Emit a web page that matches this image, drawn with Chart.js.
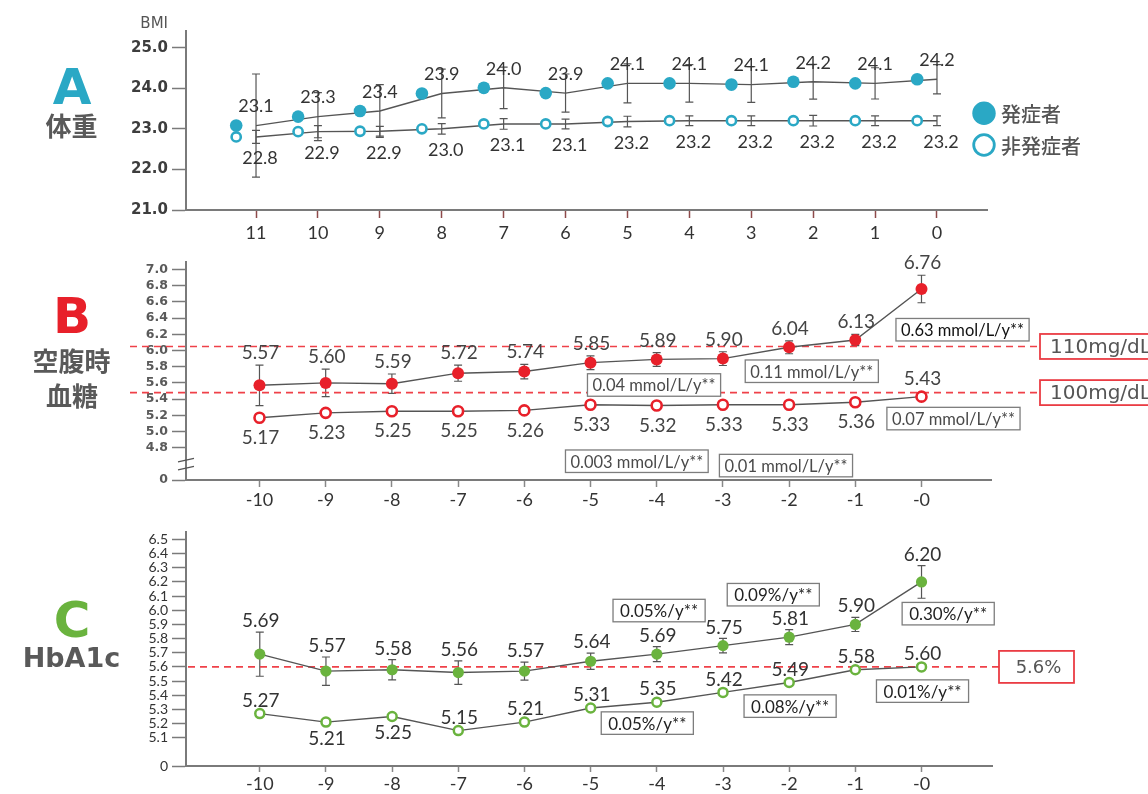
<!DOCTYPE html>
<html>
<head>
<meta charset="utf-8">
<script src="https://cdn.jsdelivr.net/npm/chart.js@4.4.1/dist/chart.umd.min.js"></script>
<style>
  html, body { margin: 0; padding: 0; background: #fff; }
  #wrap { position: relative; width: 1148px; height: 794px; overflow: hidden; }
  canvas { position: absolute; left: 0; }
</style>
</head>
<body>
<div id="wrap">
  <canvas id="bmi" width="1148" height="250" style="top:0px"></canvas>
  <canvas id="fpg" width="1148" height="270" style="top:250px"></canvas>
  <canvas id="hba" width="1148" height="274" style="top:520px"></canvas>
</div>
<script>
// ---- A: BMI, years before onset ----
const bmiYears = [11, 10, 9, 8, 7, 6, 5, 4, 3, 2, 1, 0];
const bmiOnset = [23.08, 23.30, 23.44, 23.87, 24.01, 23.88, 24.12, 24.12, 24.09, 24.16, 24.12, 24.22];
const bmiOnsetSD = [1.27, 0.59, 0.65, 0.60, 0.51, 0.47, 0.48, 0.46, 0.44, 0.43, 0.385, 0.36];
const bmiNonOnset = [22.80, 22.93, 22.94, 23.00, 23.12, 23.12, 23.18, 23.20, 23.20, 23.20, 23.20, 23.20];
const bmiNonOnsetSD = [0.16, 0.15, 0.12, 0.13, 0.13, 0.12, 0.13, 0.12, 0.12, 0.13, 0.12, 0.12];
const bmiTicks = [21, 22, 23, 24, 25];
const legendNames = ['発症者', '非発症者'];

// ---- B: fasting plasma glucose (mmol/L) ----
const diffYears = [-10, -9, -8, -7, -6, -5, -4, -3, -2, -1, 0];
const fpgOnset = [5.57, 5.60, 5.59, 5.72, 5.74, 5.85, 5.89, 5.90, 6.04, 6.13, 6.76];
const fpgOnsetSD = [0.25, 0.17, 0.12, 0.10, 0.09, 0.085, 0.085, 0.085, 0.08, 0.07, 0.17];
const fpgNonOnset = [5.17, 5.23, 5.25, 5.25, 5.26, 5.33, 5.32, 5.33, 5.33, 5.36, 5.43];
const fpgTicks = [4.8, 5.0, 5.2, 5.4, 5.6, 5.8, 6.0, 6.2, 6.4, 6.6, 6.8, 7.0];
const fpgLimitValues = [6.05, 5.48];
const fpgLimitLabels = ['110mg/dL', '100mg/dL'];
const fpgRateLabels = ['0.63 mmol/L/y**', '0.11 mmol/L/y**', '0.04 mmol/L/y**',
                       '0.07 mmol/L/y**', '0.003 mmol/L/y**', '0.01 mmol/L/y**'];

// ---- C: HbA1c (%) ----
const hbaOnset = [5.69, 5.57, 5.58, 5.56, 5.57, 5.64, 5.69, 5.75, 5.81, 5.90, 6.20];
const hbaOnsetSD = [0.156, 0.10, 0.072, 0.083, 0.063, 0.057, 0.053, 0.051, 0.053, 0.05, 0.115];
const hbaNonOnset = [5.27, 5.21, 5.25, 5.15, 5.21, 5.31, 5.35, 5.42, 5.49, 5.58, 5.60];
const hbaTicks = [5.1, 5.2, 5.3, 5.4, 5.5, 5.6, 5.7, 5.8, 5.9, 6.0, 6.1, 6.2, 6.3, 6.4, 6.5];
const hbaLimitValues = [5.6];
const hbaLimitLabels = ['5.6%'];
const hbaRateLabels = ['0.05%/y**', '0.09%/y**', '0.30%/y**', '0.01%/y**', '0.08%/y**', '0.05%/y**'];

// ---------------------------------------------------------------
const TEAL = '#2aa8c5', RED = '#e8202a', GREEN = '#6ab33e';
const LINE = '#555555', AXIS = '#7a7a7a';
const NUM = 'Lato, "Open Sans", sans-serif';
const GEO = '"DejaVu Sans", sans-serif';
const CJK = '"Noto Sans CJK JP", "Noto Sans CJK SC", sans-serif';

Chart.defaults.animation = false;
Chart.defaults.responsive = false;
Chart.defaults.events = [];
Chart.defaults.plugins.legend.display = false;
Chart.defaults.plugins.tooltip.enabled = false;

const pts = (xs, ys, shift = 0) => xs.map((x, i) => ({ x: x + shift, y: ys[i] }));

// vertical SD bars with caps, drawn under the markers
const errorBars = {
  id: 'errorBars',
  beforeDatasetsDraw(chart) {
    const { ctx } = chart, ys = chart.scales.y;
    chart.data.datasets.forEach((ds, i) => {
      if (!ds.errors) return;
      const meta = chart.getDatasetMeta(i);
      ctx.save();
      ctx.strokeStyle = LINE;
      ctx.lineWidth = 1.2;
      meta.data.forEach((p, j) => {
        const v = ds.data[j].y, e = ds.errors[j];
        const t = ys.getPixelForValue(v + e), b = ys.getPixelForValue(v - e);
        ctx.beginPath();
        ctx.moveTo(p.x, t); ctx.lineTo(p.x, b);
        ctx.moveTo(p.x - 4, t); ctx.lineTo(p.x + 4, t);
        ctx.moveTo(p.x - 4, b); ctx.lineTo(p.x + 4, b);
        ctx.stroke();
      });
      ctx.restore();
    });
  }
};

// value labels above / below each point
const valueLabels = {
  id: 'valueLabels',
  afterDatasetsDraw(chart) {
    const { ctx } = chart, ys = chart.scales.y;
    chart.data.datasets.forEach((ds, i) => {
      const L = ds.valueLabel;
      if (!L) return;
      const meta = chart.getDatasetMeta(i);
      ctx.save();
      ctx.font = L.font;
      ctx.fillStyle = L.color;
      ctx.textAlign = 'center';
      ctx.textBaseline = 'middle';
      meta.data.forEach((p, j) => {
        const v = ds.data[j].y;
        let y;
        if (L.below(j, ds.data.length)) y = p.y + L.gapBelow;
        else if (L.aboveError && ds.errors) y = ys.getPixelForValue(v + ds.errors[j]) - L.gapAbove;
        else y = p.y - L.gapAbove;
        ctx.fillText(v.toFixed(L.digits), p.x + (L.dx || 0), y);
      });
      ctx.restore();
    });
  }
};

// panel letter, title, legend, reference lines, rate boxes
function decor(cfg) {
  return {
    id: 'decor',
    beforeDatasetsDraw(chart) {
      const { ctx } = chart, ys = chart.scales.y;
      (cfg.limits || []).forEach(lim => {
        const y = ys.getPixelForValue(lim.value);
        ctx.save();
        ctx.strokeStyle = '#ef4149';
        ctx.lineWidth = 1.6;
        ctx.setLineDash([7, 5]);
        ctx.beginPath();
        ctx.moveTo(lim.from, y); ctx.lineTo(lim.to, y);
        ctx.stroke();
        ctx.restore();
      });
    },
    afterDraw(chart) {
      const { ctx } = chart, xs = chart.scales.x, ys = chart.scales.y;
      const oy = cfg.offsetY;
      ctx.save();
      // panel letter and caption
      ctx.textAlign = 'center';
      ctx.textBaseline = 'alphabetic';
      ctx.fillStyle = cfg.title.color;
      ctx.font = 'bold 50px ' + GEO;
      ctx.fillText(cfg.title.letter, cfg.title.x, cfg.title.baseline - oy);
      ctx.fillStyle = '#595959';
      cfg.title.lines.forEach(l => {
        ctx.font = l.font;
        ctx.textBaseline = l.baseline;
        ctx.fillText(l.text, l.x, l.y - oy);
      });
      // red boxes at the reference lines
      (cfg.limits || []).forEach(lim => {
        const y = ys.getPixelForValue(lim.value);
        ctx.strokeStyle = '#ea3c44';
        ctx.lineWidth = 1.8;
        ctx.fillStyle = '#fff';
        ctx.fillRect(lim.to, y - lim.h / 2, lim.w, lim.h);
        ctx.strokeRect(lim.to, y - lim.h / 2, lim.w, lim.h);
        ctx.fillStyle = '#555';
        ctx.font = lim.font;
        ctx.textBaseline = 'middle';
        ctx.textAlign = lim.align;
        ctx.fillText(lim.label, lim.align === 'left' ? lim.to + 10 : lim.to + lim.w / 2 + 2, y + 1);
      });
      // slope boxes
      (cfg.rates || []).forEach(r => {
        const x = xs.getPixelForValue(r.x), y = ys.getPixelForValue(r.y);
        ctx.font = cfg.rateFont;
        const w = ctx.measureText(r.text).width + cfg.ratePad * 2, h = 22.5;
        ctx.fillStyle = '#fff';
        ctx.fillRect(x - w / 2, y - h / 2, w, h);
        ctx.strokeStyle = '#7d7d7d';
        ctx.lineWidth = 1.3;
        ctx.strokeRect(x - w / 2, y - h / 2, w, h);
        ctx.fillStyle = r.color;
        ctx.textAlign = 'center';
        ctx.textBaseline = 'middle';
        ctx.fillText(r.text, x, y + 1);
      });
      // broken-axis mark
      if (cfg.axisBreak) {
        const x = chart.chartArea.left;
        const yc = (ys.getPixelForValue(cfg.axisBreak[0]) + ys.getPixelForValue(cfg.axisBreak[1])) / 2;
        ctx.strokeStyle = LINE;
        ctx.lineWidth = 1.3;
        ctx.beginPath();
        ctx.moveTo(x - 8, yc - 2); ctx.lineTo(x + 8, yc - 5.5);
        ctx.moveTo(x - 8, yc + 6); ctx.lineTo(x + 8, yc + 2.5);
        ctx.stroke();
      }
      // legend
      if (cfg.legend) {
        const lg = cfg.legend;
        ctx.fillStyle = TEAL;
        ctx.beginPath(); ctx.arc(lg.x, lg.y[0], 11.7, 0, Math.PI * 2); ctx.fill();
        ctx.strokeStyle = TEAL; ctx.lineWidth = 2.8;
        ctx.fillStyle = '#fff';
        ctx.beginPath(); ctx.arc(lg.x, lg.y[1], 10.3, 0, Math.PI * 2); ctx.fill(); ctx.stroke();
        ctx.fillStyle = '#555';
        ctx.font = '500 20px ' + CJK;
        ctx.textAlign = 'left';
        ctx.textBaseline = 'middle';
        legendNames.forEach((n, i) => ctx.fillText(n, lg.x + 17, lg.y[i] + 1));
      }
      // unit above the y axis
      if (cfg.unit) {
        ctx.fillStyle = '#555';
        ctx.font = '15px ' + GEO;
        ctx.textAlign = 'right';
        ctx.textBaseline = 'alphabetic';
        ctx.fillText(cfg.unit, 168, 28 - oy);
      }
      ctx.restore();
    }
  };
}

function yAxis(min, max, ticks, font, color, fmt) {
  return {
    type: 'linear', min, max,
    afterFit: s => { s.width = 186; },
    afterBuildTicks: s => { s.ticks = ticks.map(v => ({ value: v })); },
    border: { display: true, color: AXIS, width: 2 },
    grid: { drawOnChartArea: false, drawTicks: true, tickLength: 14, tickColor: AXIS, tickWidth: 1.5 },
    ticks: { font, color, padding: 4, autoSkip: false, callback: fmt }
  };
}

function xAxis(min, max, ticks, reverse, height, tickColor, tickLen, pad, fmt) {
  return {
    type: 'linear', min, max, reverse,
    afterFit: s => { s.height = height; },
    afterBuildTicks: s => { s.ticks = ticks.map(v => ({ value: v })); },
    border: { display: true, color: AXIS, width: 2 },
    grid: { drawOnChartArea: false, drawTicks: true, tickLength: tickLen, tickColor, tickWidth: 1.5 },
    ticks: { font: { family: NUM, size: 18 }, color: '#333', padding: pad, autoSkip: false, maxRotation: 0, callback: fmt }
  };
}

// ---------------- A ----------------
const dotShift = 0.32;
new Chart(document.getElementById('bmi'), {
  type: 'line',
  data: {
    datasets: [
      { data: pts(bmiYears, bmiOnset, dotShift), showLine: false, pointRadius: 6.3,
        pointBackgroundColor: TEAL, pointBorderWidth: 0 },
      { data: pts(bmiYears, bmiNonOnset, dotShift), showLine: false, pointRadius: 4.6,
        pointBackgroundColor: '#fff', pointBorderColor: TEAL, pointBorderWidth: 2.6 },
      { data: pts(bmiYears, bmiOnset), borderColor: LINE, borderWidth: 1.4, pointRadius: 0,
        errors: bmiOnsetSD,
        valueLabel: { font: '18px ' + NUM, color: '#333', digits: 1, below: () => false, gapAbove: 19, gapBelow: 0 } },
      { data: pts(bmiYears, bmiNonOnset), borderColor: LINE, borderWidth: 1.4, pointRadius: 0,
        errors: bmiNonOnsetSD,
        valueLabel: { font: '18px ' + NUM, color: '#333', digits: 1, below: () => true, gapAbove: 0, gapBelow: 21.5, dx: 4 } }
    ]
  },
  options: {
    layout: { padding: { left: 0, right: 161, top: 31, bottom: 0 } },
    scales: {
      x: xAxis(-0.808, 12.131, bmiYears, true, 40, '#8e4a4a', 8, 4, v => String(v)),
      y: yAxis(21, 25.41, bmiTicks, { family: GEO, size: 15, weight: 'bold' }, '#3d3d3d', v => v.toFixed(1))
    }
  },
  plugins: [errorBars, valueLabels, decor({
    offsetY: 0,
    unit: 'BMI',
    title: { letter: 'A', color: TEAL, x: 72, baseline: 103.5,
      lines: [{ text: '体重', x: 71.5, y: 126.5, font: 'bold 26px ' + CJK, baseline: 'middle' }] },
    legend: { x: 984, y: [113.3, 145] }
  })]
});

// ---------------- B ----------------
const fpgZeroAt = 4.4;   // axis is broken between 0 and 4.8
new Chart(document.getElementById('fpg'), {
  type: 'line',
  data: {
    datasets: [
      { data: pts(diffYears, fpgOnset), borderColor: LINE, borderWidth: 1.4,
        pointRadius: 6, pointBackgroundColor: RED, pointBorderWidth: 0,
        errors: fpgOnsetSD,
        valueLabel: { font: '19px ' + NUM, color: '#444', digits: 2, below: () => false, aboveError: true, gapAbove: 12, gapBelow: 0, dx: 1 } },
      { data: pts(diffYears, fpgNonOnset), borderColor: LINE, borderWidth: 1.4,
        pointRadius: 5, pointBackgroundColor: '#fff', pointBorderColor: RED, pointBorderWidth: 2.6,
        valueLabel: { font: '19px ' + NUM, color: '#444', digits: 2, below: (j, n) => j < n - 1, gapAbove: 18, gapBelow: 20, dx: 1 } }
    ]
  },
  options: {
    layout: { padding: { left: 0, right: 157, top: 9, bottom: 0 } },
    scales: {
      x: xAxis(-11.11, 1.05, diffYears, false, 40, '#888', 7, 2, v => (v === 0 ? '-0' : String(v))),
      y: yAxis(fpgZeroAt, 7.1, [fpgZeroAt].concat(fpgTicks), { family: GEO, size: 12.5, weight: 'bold' }, '#5a5a5a',
        v => (v < 4.6 ? '0' : v.toFixed(1)))
    }
  },
  plugins: [errorBars, valueLabels, decor({
    offsetY: 250,
    title: { letter: 'B', color: RED, x: 72, baseline: 333,
      lines: [{ text: '空腹時', x: 71.5, y: 361, font: 'bold 26px ' + CJK, baseline: 'middle' },
              { text: '血糖', x: 72, y: 396, font: 'bold 26px ' + CJK, baseline: 'middle' }] },
    limits: fpgLimitValues.map((v, i) => ({ value: v, label: fpgLimitLabels[i], from: 130, to: 1040,
      w: 116, h: 25, font: '20px ' + GEO, align: 'left' })),
    rateFont: '16.5px ' + NUM, ratePad: 5,
    rates: [
      { text: fpgRateLabels[0], x: 0.62, y: 6.257, color: '#111' },
      { text: fpgRateLabels[1], x: -1.657, y: 5.744, color: '#4a4a4a' },
      { text: fpgRateLabels[2], x: -4.04, y: 5.574, color: '#4a4a4a' },
      { text: fpgRateLabels[3], x: 0.483, y: 5.159, color: '#4a4a4a' },
      { text: fpgRateLabels[4], x: -4.30, y: 4.632, color: '#4a4a4a' },
      { text: fpgRateLabels[5], x: -2.047, y: 4.578, color: '#4a4a4a' }
    ],
    axisBreak: [fpgZeroAt, 4.8]
  })]
});

// ---------------- C ----------------
const hbaZeroAt = 4.9;
const hbaNonBelow = new Set([-9, -8]);
new Chart(document.getElementById('hba'), {
  type: 'line',
  data: {
    datasets: [
      { data: pts(diffYears, hbaOnset), borderColor: LINE, borderWidth: 1.4,
        pointRadius: 5.6, pointBackgroundColor: GREEN, pointBorderWidth: 0,
        errors: hbaOnsetSD,
        valueLabel: { font: '19px ' + NUM, color: '#333', digits: 2, below: () => false, aboveError: true, gapAbove: 11, gapBelow: 0, dx: 1 } },
      { data: pts(diffYears, hbaNonOnset), borderColor: LINE, borderWidth: 1.4,
        pointRadius: 4.5, pointBackgroundColor: '#fff', pointBorderColor: GREEN, pointBorderWidth: 2.5,
        valueLabel: { font: '19px ' + NUM, color: '#333', digits: 2, below: j => hbaNonBelow.has(diffYears[j]), gapAbove: 13, gapBelow: 16.5, dx: 1 } }
    ]
  },
  options: {
    layout: { padding: { left: 0, right: 156, top: 8, bottom: 0 } },
    scales: {
      x: xAxis(-11.115, 1.065, diffYears, false, 28, '#888', 6, 1, v => (v === 0 ? '-0' : String(v))),
      y: yAxis(hbaZeroAt, 6.55, [hbaZeroAt].concat(hbaTicks), { family: NUM, size: 14 }, '#333',
        v => (v < 5 ? '0' : v.toFixed(1)))
    }
  },
  plugins: [errorBars, valueLabels, decor({
    offsetY: 520,
    title: { letter: 'C', color: GREEN, x: 72, baseline: 636.5,
      lines: [{ text: 'HbA1c', x: 71.5, y: 667.3, font: 'bold 27px ' + GEO, baseline: 'alphabetic' }] },
    limits: hbaLimitValues.map((v, i) => ({ value: v, label: hbaLimitLabels[i], from: 188, to: 999,
      w: 75, h: 32, font: '18px ' + GEO, align: 'center' })),
    rateFont: '17px ' + NUM, ratePad: 7,
    rates: [
      { text: hbaRateLabels[0], x: -3.966, y: 5.998, color: '#222' },
      { text: hbaRateLabels[1], x: -2.24, y: 6.11, color: '#222' },
      { text: hbaRateLabels[2], x: 0.403, y: 5.976, color: '#222' },
      { text: hbaRateLabels[3], x: 0.015, y: 5.429, color: '#222' },
      { text: hbaRateLabels[4], x: -1.986, y: 5.323, color: '#222' },
      { text: hbaRateLabels[5], x: -4.144, y: 5.203, color: '#222' }
    ]
  })]
});
</script>
</body>
</html>
